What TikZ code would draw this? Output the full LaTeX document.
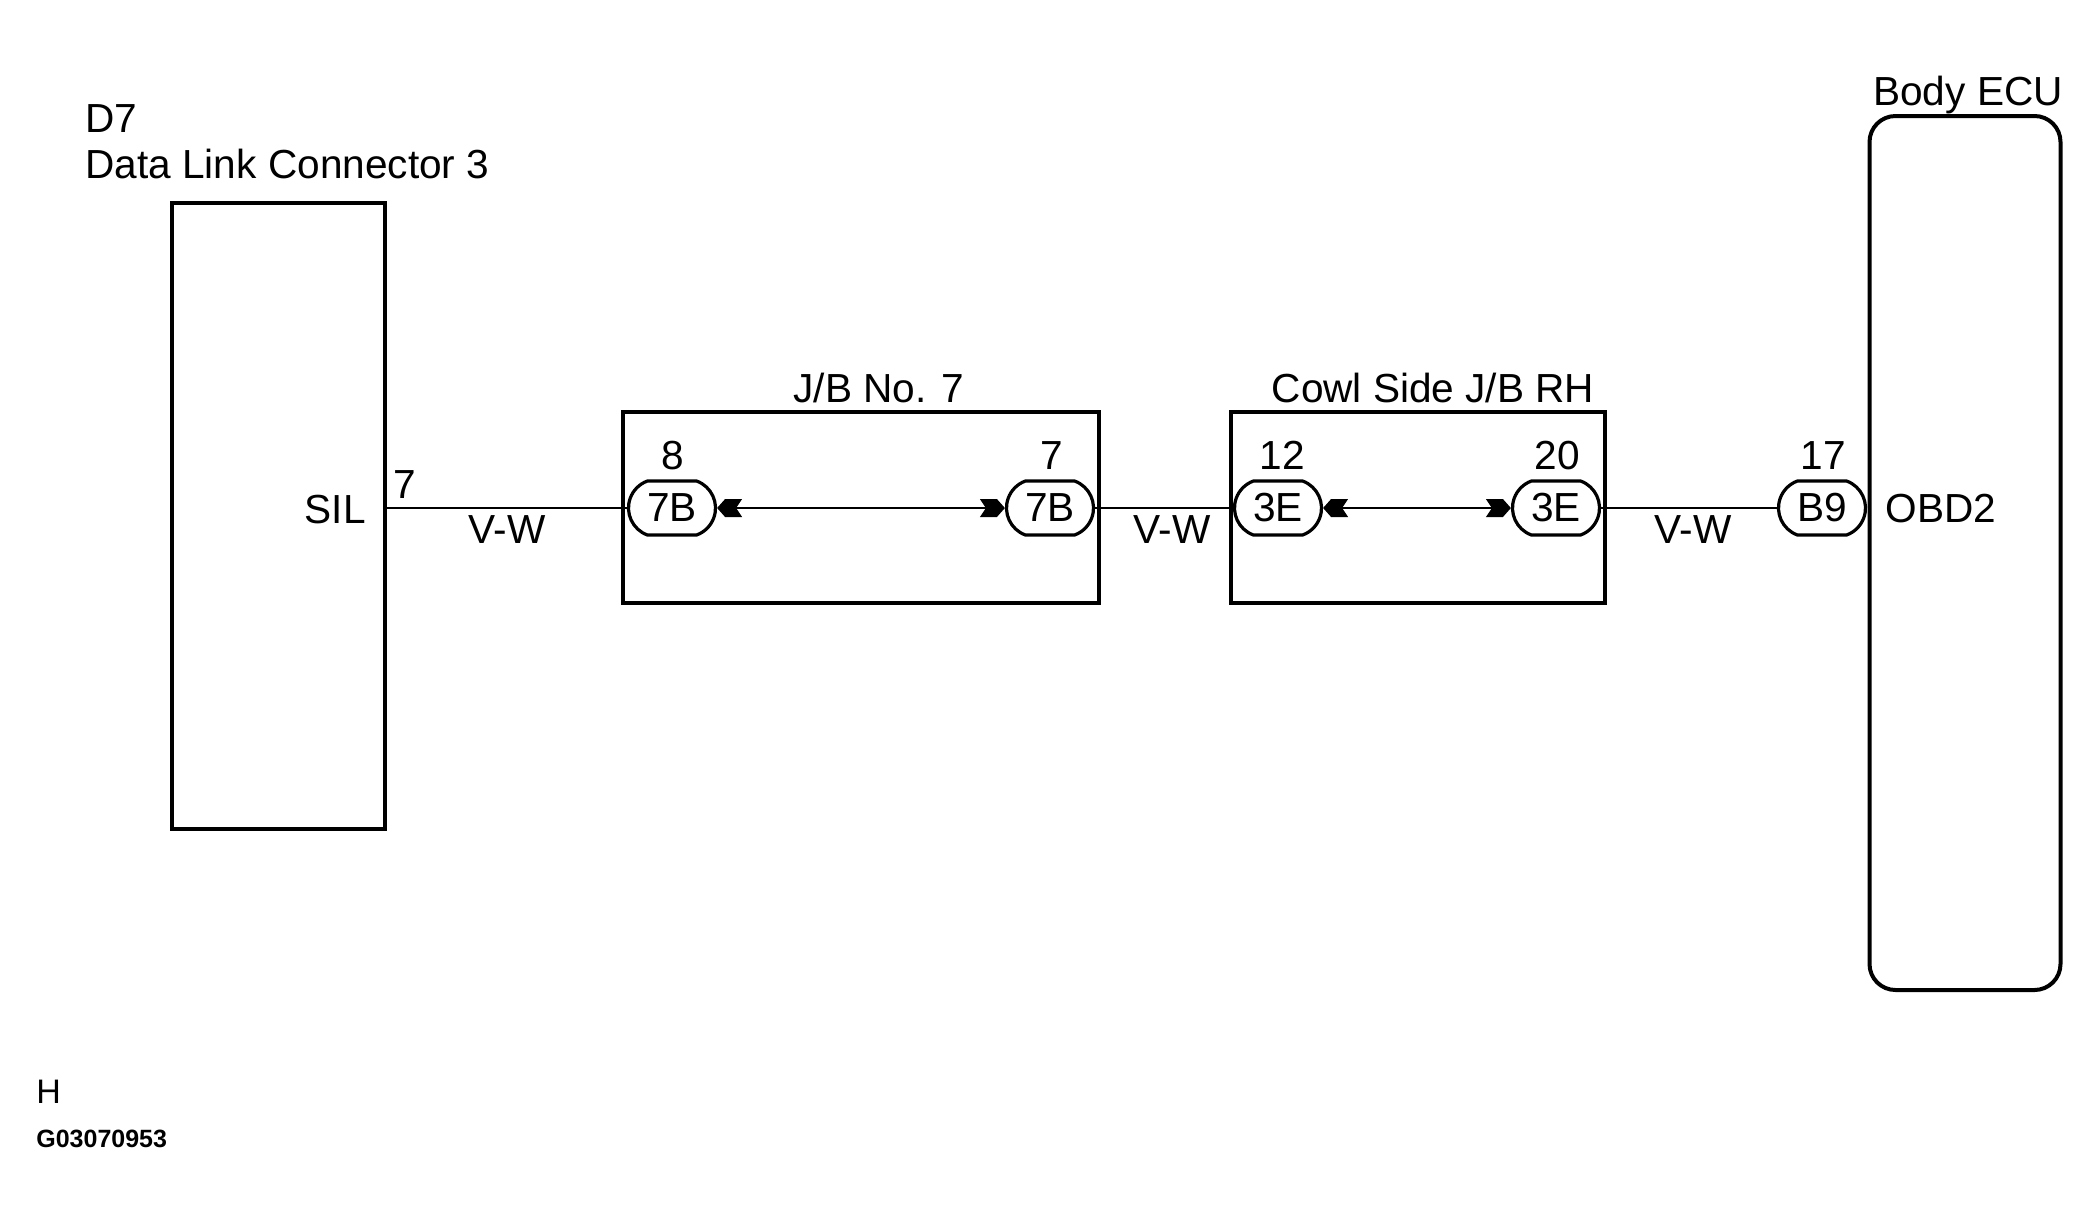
\documentclass[tikz,border=0pt]{standalone}
\usepackage{fontspec}
\setmainfont{Liberation Sans}
\usetikzlibrary{arrows.meta,shapes.misc}
\pgfdeclarearrow{
  name = Chev,
  setup code = {
    \pgfarrowssettipend{0pt}
    \pgfarrowssetlineend{-9pt}
    \pgfarrowssetbackend{-12.5pt}
    \pgfarrowsupperhullpoint{0pt}{0pt}
    \pgfarrowsupperhullpoint{-4pt}{4.5pt}
    \pgfarrowsupperhullpoint{-12.5pt}{4.5pt}
  },
  drawing code = {
    \pgfpathmoveto{\pgfpoint{0pt}{0pt}}
    \pgfpathlineto{\pgfpoint{-4pt}{4.5pt}}
    \pgfpathlineto{\pgfpoint{-12.5pt}{4.5pt}}
    \pgfpathlineto{\pgfpoint{-9.5pt}{0pt}}
    \pgfpathlineto{\pgfpoint{-12.5pt}{-4.5pt}}
    \pgfpathlineto{\pgfpoint{-4pt}{-4.5pt}}
    \pgfpathclose
    \pgfusepathqfill
  }
}
\begin{document}
\begin{tikzpicture}[x=0.5pt,y=-0.5pt,
  lbl/.style={font=\fontsize{20.3}{24}\selectfont, inner sep=0pt},
  boxst/.style={draw, line width=2pt, inner sep=0pt},
  conn/.style={draw, line width=1.6pt, rounded rectangle, rounded rectangle arc length=140,
    minimum width=43.5pt, minimum height=27pt, inner sep=0pt,
    font=\fontsize{20.3}{24}\selectfont, fill=white},
  wire/.style={line width=1pt},
  jarrow/.style={line width=1pt, {Chev}-{Chev}}
]
\useasboundingbox (0,0) rectangle (2100,1222);

% boxes
\node[boxst, minimum width=106.5pt, minimum height=313pt] (dlc) at (278,516) {};
\node[boxst, minimum width=238pt, minimum height=95.5pt] (jb7) at (861,507.5) {};
\node[boxst, minimum width=187pt, minimum height=95.5pt] (cowl) at (1418,507.5) {};
\node[boxst, rounded corners=13pt, minimum width=95.5pt, minimum height=437pt] (ecu) at (1965,553) {};

% titles
\node[lbl, anchor=base west] (d7) at (85,132) {D7};
\node[lbl, anchor=base west] (dlcname) at (85,178) {Data Link Connector 3};
\node[lbl, anchor=base] (jb7name) at (879,402) {J/B No. 7};
\node[lbl, anchor=base] (cowlname) at (1433,402) {Cowl Side J/B RH};
\node[lbl, anchor=base] (ecuname) at (1968,105) {Body ECU};

% connectors
\node[conn] (c1) at (672,508) {7B};
\node[conn] (c2) at (1050,508) {7B};
\node[conn] (c3) at (1278,508) {3E};
\node[conn] (c4) at (1556,508) {3E};
\node[conn] (c5) at (1822,508) {B9};

% pin numbers
\node[lbl, anchor=base] (p1) at (673,469) {8};
\node[lbl, anchor=base] (p2) at (1052,469) {7};
\node[lbl, anchor=base] (p3) at (1282,469) {12};
\node[lbl, anchor=base] (p4) at (1557,469) {20};
\node[lbl, anchor=base] (p5) at (1823,469) {17};
\node[lbl, anchor=base] (p0) at (405,498) {7};

% terminal names
\node[lbl, anchor=base east] (sil) at (366,523) {SIL};
\node[lbl, anchor=base west] (obd) at (1885,522) {OBD2};

% wires
\coordinate (dlcpin) at (dlc.east |- c1.west);
\draw[wire] (dlcpin) -- (c1.west);
\draw[wire] (c2.east) -- (c3.west);
\draw[wire] (c4.east) -- (c5.west);
\draw[jarrow] (c1.east) -- (c2.west);
\draw[jarrow] (c3.east) -- (c4.west);

% wire colours
\node[lbl, anchor=base] (w1) at (507,543) {V-W};
\node[lbl, anchor=base] (w2) at (1172,543) {V-W};
\node[lbl, anchor=base] (w3) at (1693,543) {V-W};

% footer
\node[font=\fontsize{17}{20}\selectfont, inner sep=0pt, anchor=base west] (h) at (36,1103) {H};
\node[font=\fontsize{12.5}{15}\selectfont\bfseries, inner sep=0pt, anchor=base west] (g) at (36,1147) {G03070953};
\end{tikzpicture}
\end{document}
